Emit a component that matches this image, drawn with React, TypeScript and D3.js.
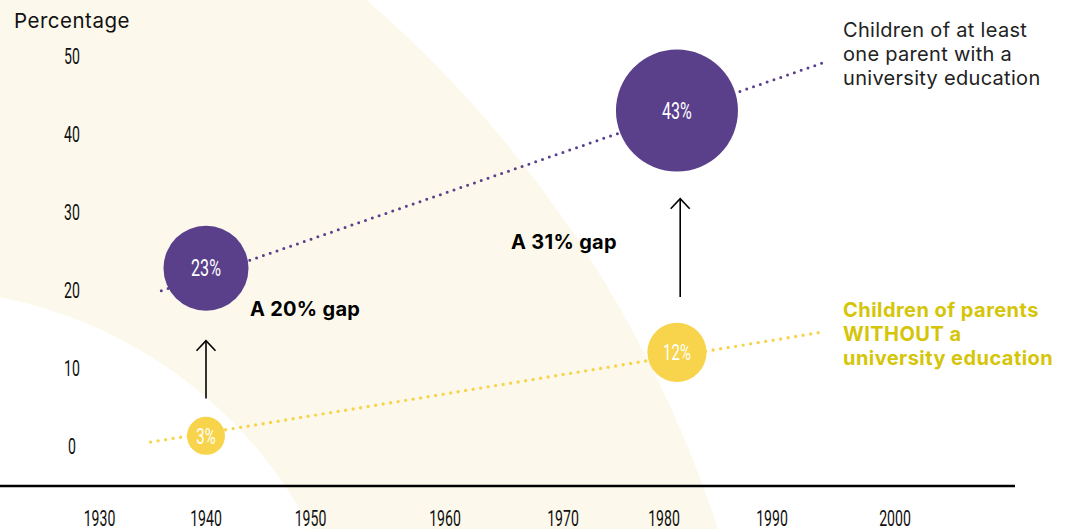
import React from 'react';
import * as d3 from 'd3';

// ---- data ----
const tickYears = [1930, 1940, 1950, 1960, 1970, 1980, 1990, 2000];
const yTicks = [0, 10, 20, 30, 40, 50];

const bubbleYears = [1940, 1981.2];
const withDegree = [23, 43];
const withDegreePlotted = [22.8, 43];
const withoutDegree = [3, 12];
const withoutDegreePlotted = [1.3, 12];

const trendWithYears = [1935.8, 1994.1];
const trendWithValues = [19.9, 49.1];
const trendWithoutYears = [1934.8, 1994.1];
const trendWithoutValues = [0.5, 14.6];

const arrowYears = [1940, 1981.5];
const arrowFrom = [6.1, 19.1];
const arrowTo = [13.5, 31.7];

const gapLabels = ['A 20% gap', 'A 31% gap'];
const gapYears = [1944.2, 1965.6];
const gapValues = [16.7, 25.3];

const legendWith = ['Children of at least', 'one parent with a', 'university education'];
const legendWithout = ['Children of parents', 'WITHOUT a', 'university education'];

const PURPLE = '#5a3f8b';
const YELLOW = '#f7d44c';
const YELLOW_TEXT = '#d5c508';
const CREAM = '#fcf9ec';

function CText({ x, y, children, size, fill, sx = 0.64 }: any) {
  return (
    <g transform={`translate(${x},${y}) scale(${sx},1)`}>
      <text textAnchor="middle" dy="0.36em" fontSize={size} fill={fill} fontFamily="Roboto">
        {children}
      </text>
    </g>
  );
}

export default function App() {
  const x = d3
    .scaleLinear()
    .domain(tickYears)
    .range([99.5, 206, 310.5, 445, 563, 664, 772, 895]);
  const y = d3.scaleLinear().domain([0, 50]).range([446, 56]);
  const r = d3.scaleLinear().domain([3, 23, 43]).range([19, 42.5, 61]);

  const line = d3
    .line<[number, number]>()
    .x((d) => x(d[0]))
    .y((d) => y(d[1]));

  const withLine = line(trendWithYears.map((yr, i) => [yr, trendWithValues[i]] as [number, number]))!;
  const withoutLine = line(
    trendWithoutYears.map((yr, i) => [yr, trendWithoutValues[i]] as [number, number])
  )!;

  return (
    <svg
      width={1070}
      height={529}
      style={{ position: 'absolute', left: 0, top: 0, background: '#fff' }}
    >
      {/* background arc */}
      <circle cx={-413} cy={899} r={1190} fill={CREAM} />
      <circle cx={-86} cy={737} r={448} fill="#fff" />

      {/* axis line */}
      <line x1={0} x2={1015} y1={486} y2={486} stroke="#000" strokeWidth={2.6} />

      {/* title */}
      <text x={14} y={28} fontFamily="Inter" fontSize={20.5} letterSpacing={0.5} fill="#111">
        Percentage
      </text>

      {/* y ticks */}
      {yTicks.map((t) => (
        <CText key={t} x={72} y={y(t)} size={22} fill="#111">
          {t}
        </CText>
      ))}

      {/* x ticks */}
      {tickYears.map((t) => (
        <CText key={t} x={x(t)} y={518.5} size={22} fill="#111">
          {t}
        </CText>
      ))}

      {/* trend lines */}
      <path
        d={withoutLine}
        fill="none"
        stroke={YELLOW}
        strokeWidth={3.4}
        strokeLinecap="round"
        strokeDasharray="0 7.6"
      />
      <path
        d={withLine}
        fill="none"
        stroke={PURPLE}
        strokeWidth={3}
        strokeLinecap="round"
        strokeDasharray="0 7.2"
      />

      {/* arrows */}
      {arrowYears.map((yr, i) => {
        const ax = x(yr);
        const top = y(arrowTo[i]);
        const bot = y(arrowFrom[i]);
        return (
          <g key={yr} stroke="#000" strokeWidth={1.6} fill="none">
            <line x1={ax} x2={ax} y1={bot} y2={top} />
            <path d={`M${ax - 9.5},${top + 10} L${ax},${top} L${ax + 9.5},${top + 10}`} />
          </g>
        );
      })}

      {/* bubbles */}
      {bubbleYears.map((yr, i) => (
        <g key={'w' + yr}>
          <circle cx={x(yr)} cy={y(withDegreePlotted[i])} r={r(withDegree[i])} fill={PURPLE} />
          <CText x={x(yr)} y={y(withDegreePlotted[i])} size={23} fill="#fff" sx={0.7}>
            {withDegree[i]}%
          </CText>
        </g>
      ))}
      {bubbleYears.map((yr, i) => (
        <g key={'wo' + yr}>
          <circle
            cx={x(yr)}
            cy={y(withoutDegreePlotted[i])}
            r={r(withoutDegree[i])}
            fill={YELLOW}
          />
          <CText x={x(yr)} y={y(withoutDegreePlotted[i])} size={22} fill="#fff" sx={0.68}>
            {withoutDegree[i]}%
          </CText>
        </g>
      ))}

      {/* gap labels */}
      {gapLabels.map((g, i) => (
        <text
          key={g}
          x={x(gapYears[i])}
          y={y(gapValues[i])}
          fontFamily="Inter"
          fontWeight={700}
          fontSize={20}
          letterSpacing={0.3}
          fill="#000"
        >
          {g}
        </text>
      ))}

      {/* legends */}
      <text x={843} fontFamily="Inter" fontSize={20} letterSpacing={0.3} fill="#222">
        {legendWith.map((l, i) => (
          <tspan key={i} x={843} y={37 + i * 24}>
            {l}
          </tspan>
        ))}
      </text>
      <text
        x={843}
        fontFamily="Inter"
        fontWeight={700}
        fontSize={20}
        letterSpacing={0.45}
        fill={YELLOW_TEXT}
      >
        {legendWithout.map((l, i) => (
          <tspan key={i} x={843} y={317 + i * 24}>
            {l}
          </tspan>
        ))}
      </text>
    </svg>
  );
}
